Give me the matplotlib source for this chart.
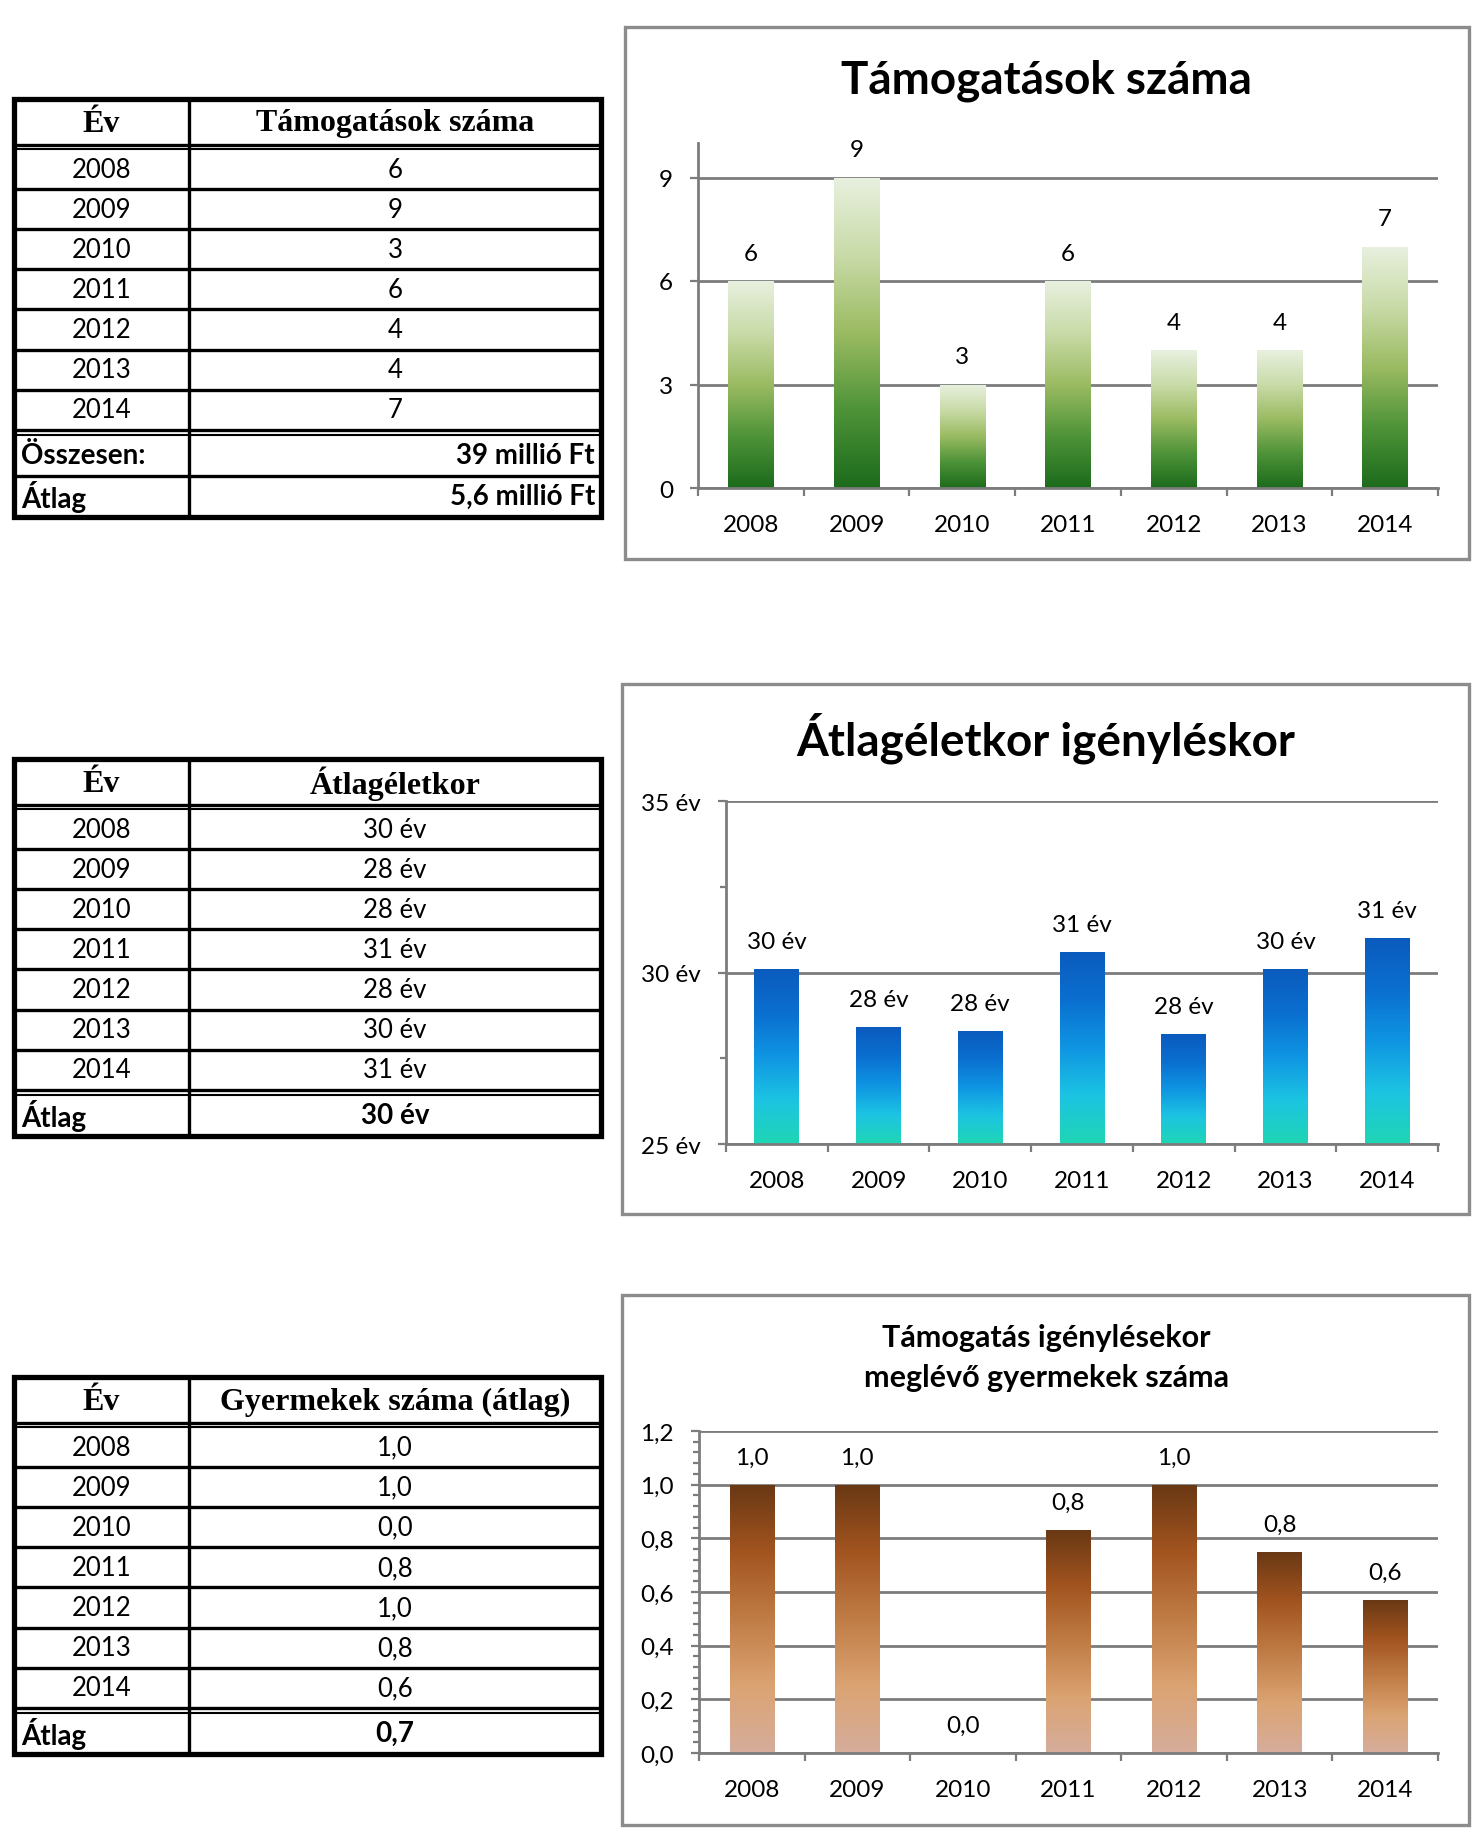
import numpy as np
import matplotlib
matplotlib.use('Agg')
import matplotlib.pyplot as plt
from matplotlib.colors import LinearSegmentedColormap
from matplotlib.patches import Rectangle
import matplotlib.ticker as mticker

# data
years = ['2008', '2009', '2010', '2011', '2012', '2013', '2014']

tamogatasok = [6, 9, 3, 6, 4, 4, 7]
tamogatasok_labels = ['6', '9', '3', '6', '4', '4', '7']
tamogatasok_tail = [('Összesen:', '39 millió Ft'), ('Átlag', '5,6 millió Ft')]

eletkor = [30.1, 28.4, 28.3, 30.6, 28.2, 30.1, 31.0]
eletkor_labels = ['30 év', '28 év', '28 év', '31 év', '28 év', '30 év', '31 év']
eletkor_tail = [('Átlag', '30 év')]

gyermek = [1.0, 1.0, 0.0, 0.83, 1.0, 0.75, 0.57]
gyermek_labels = ['1,0', '1,0', '0,0', '0,8', '1,0', '0,8', '0,6']
gyermek_tail = [('Átlag', '0,7')]

W, H = 1483, 1849
SANS = 'Lato'
SERIF = 'Liberation Serif'
GRAY = '#7c7c7c'

green = LinearSegmentedColormap.from_list('g', ['#1c6b1c', '#4e9338', '#9bbb62', '#c9dba8', '#e8f0df'])
blue = LinearSegmentedColormap.from_list('b', ['#1fd6b4', '#1cc4e2', '#0f95e2', '#0a6fd0', '#0b5bbd'])
brown = LinearSegmentedColormap.from_list('br', ['#d6ad9c', '#dba372', '#c07c45', '#a2541f', '#693814'])

fig = plt.figure(figsize=(W / 100, H / 100), dpi=100)
fig.patch.set_facecolor('white')

bg = fig.add_axes([0, 0, 1, 1])
bg.set_xlim(0, W)
bg.set_ylim(H, 0)
bg.axis('off')


def px_rect(x0, y0, x1, y1):
    return [x0 / W, 1 - y1 / H, (x1 - x0) / W, (y1 - y0) / H]


def draw_table(top, head2, rows, tail):
    xl, xd, xr = 14, 189, 601
    head_h, row_h, tail_h = 46, 40.1, 41
    y_head = top + head_h
    y_data = y_head + 4
    y_end = y_data + row_h * len(rows)
    y_tail = y_end + 5
    bottom = y_tail + tail_h * len(tail)
    lw = 2.4
    # header
    bg.text((xl + xd) / 2, top + head_h / 2 + 1, 'Év', family=SERIF, weight='bold',
            fontsize=23, ha='center', va='center')
    bg.text((xd + xr) / 2, top + head_h / 2 + 1, head2, family=SERIF, weight='bold',
            fontsize=23, ha='center', va='center')
    bg.plot([xl, xr], [y_head, y_head], color='black', lw=lw)
    bg.plot([xl, xr], [y_data, y_data], color='black', lw=1.5)
    for i, (yr, val) in enumerate(rows):
        yc = y_data + row_h * (i + 0.5)
        bg.text((xl + xd) / 2, yc, yr, family=SANS, fontsize=18.5, ha='center', va='center')
        bg.text((xd + xr) / 2, yc, val, family=SANS, fontsize=18.5, ha='center', va='center')
        if i > 0:
            y = y_data + row_h * i
            bg.plot([xl, xr], [y, y], color='black', lw=lw)
    bg.plot([xl, xr], [y_end, y_end], color='black', lw=lw)
    bg.plot([xl, xr], [y_tail, y_tail], color='black', lw=1.5)
    for i, (name, val) in enumerate(tail):
        yc = y_tail + tail_h * (i + 0.5)
        bg.text(xl + 7, yc, name, family=SANS, weight='bold', fontsize=20, ha='left', va='center')
        if len(tail) > 1:
            bg.text(xr - 6, yc, val, family=SANS, weight='bold', fontsize=20, ha='right', va='center')
        else:
            bg.text((xd + xr) / 2, yc, val, family=SANS, weight='bold', fontsize=20,
                    ha='center', va='center')
        if i > 0:
            y = y_tail + tail_h * i
            bg.plot([xl, xr], [y, y], color='black', lw=lw)
    bg.plot([xd, xd], [top, bottom], color='black', lw=lw)
    bg.add_patch(Rectangle((xl, top), xr - xl, bottom - top, fill=False,
                           edgecolor='black', lw=3.8))


def gradient_chart(rect, values, labels, cmap, ylim, major, minor, fmt, width):
    ax = fig.add_axes(px_rect(*rect))
    ax.set_facecolor('none')
    x = np.arange(len(values))
    bars = ax.bar(x, np.array(values) - ylim[0], width=width, bottom=ylim[0],
                  color='none', edgecolor='none')
    grad = np.linspace(0, 1, 256).reshape(-1, 1)
    for b, v in zip(bars, values):
        if v <= ylim[0]:
            continue
        im = ax.imshow(grad, cmap=cmap, origin='lower', aspect='auto', zorder=2,
                       extent=[b.get_x(), b.get_x() + b.get_width(), ylim[0], v])
        im.set_clip_path(b)
    for xi, v, lab in zip(x, values, labels):
        ax.annotate(lab, (xi, v), xytext=(0, 20), textcoords='offset points',
                    ha='center', va='center', family=SANS, fontsize=17.5)
    ax.set_xlim(-0.5, len(values) - 0.5)
    ax.set_ylim(*ylim)
    ax.set_xticks(x)
    ax.set_xticklabels(years)
    ax.set_xticks(np.arange(len(values) + 1) - 0.5, minor=True)
    ax.tick_params(axis='x', which='major', length=0, pad=19, labelsize=17.5)
    ax.tick_params(axis='x', which='minor', length=6, width=1.6, color=GRAY, direction='out')
    ax.set_yticks(major)
    if minor is not None:
        ax.set_yticks(minor, minor=True)
    ax.yaxis.set_major_formatter(mticker.FuncFormatter(fmt))
    ax.tick_params(axis='y', which='major', length=6, width=1.6, color=GRAY, pad=12, labelsize=17.5)
    ax.tick_params(axis='y', which='minor', length=4, width=1.6, color=GRAY)
    for lbl in ax.get_xticklabels() + ax.get_yticklabels():
        lbl.set_family(SANS)
    ax.yaxis.grid(True, color=GRAY, lw=2.0)
    ax.set_axisbelow(True)
    for s in ['top', 'right']:
        ax.spines[s].set_visible(False)
    for s in ['left', 'bottom']:
        ax.spines[s].set_color(GRAY)
        ax.spines[s].set_linewidth(2.0)
    return ax


# chart frames
for box in [(625, 28, 1469, 560), (622, 685, 1469, 1215), (622, 1296, 1469, 1826)]:
    bg.add_patch(Rectangle((box[0], box[1]), box[2] - box[0], box[3] - box[1], fill=False,
                           edgecolor='#8c8c8c', lw=2.4))

# tables
draw_table(100, 'Támogatások száma', list(zip(years, tamogatasok_labels)), tamogatasok_tail)
draw_table(760, 'Átlagéletkor', list(zip(years, eletkor_labels)), eletkor_tail)
draw_table(1378, 'Gyermekek száma (átlag)', list(zip(years, gyermek_labels)), gyermek_tail)

# chart 1
gradient_chart((698, 144, 1438, 489), tamogatasok, tamogatasok_labels, green, (0, 10),
               [0, 3, 6, 9], None, lambda v, p: '%d' % v, 0.43)
bg.text(1046, 81, 'Támogatások száma', family=SANS, weight='bold', fontsize=33,
        ha='center', va='center')

# chart 2
gradient_chart((726, 802, 1438, 1145), eletkor, eletkor_labels, blue, (25, 35),
               [25, 30, 35], [27.5, 32.5], lambda v, p: '%d év' % v, 0.44)
bg.text(1046, 738, 'Átlagéletkor igényléskor', family=SANS, weight='bold', fontsize=33,
        ha='center', va='center')

# chart 3
gradient_chart((699, 1432, 1438, 1754), gyermek, gyermek_labels, brown, (0, 1.2),
               np.arange(0, 1.21, 0.2), np.arange(0, 1.21, 0.04),
               lambda v, p: ('%.1f' % v).replace('.', ','), 0.42)
bg.text(1046, 1338, 'Támogatás igénylésekor', family=SANS, weight='bold', fontsize=22,
        ha='center', va='center')
bg.text(1046, 1378, 'meglévő gyermekek száma', family=SANS, weight='bold', fontsize=22,
        ha='center', va='center')

fig.savefig('out.png', dpi=100, facecolor='white')
